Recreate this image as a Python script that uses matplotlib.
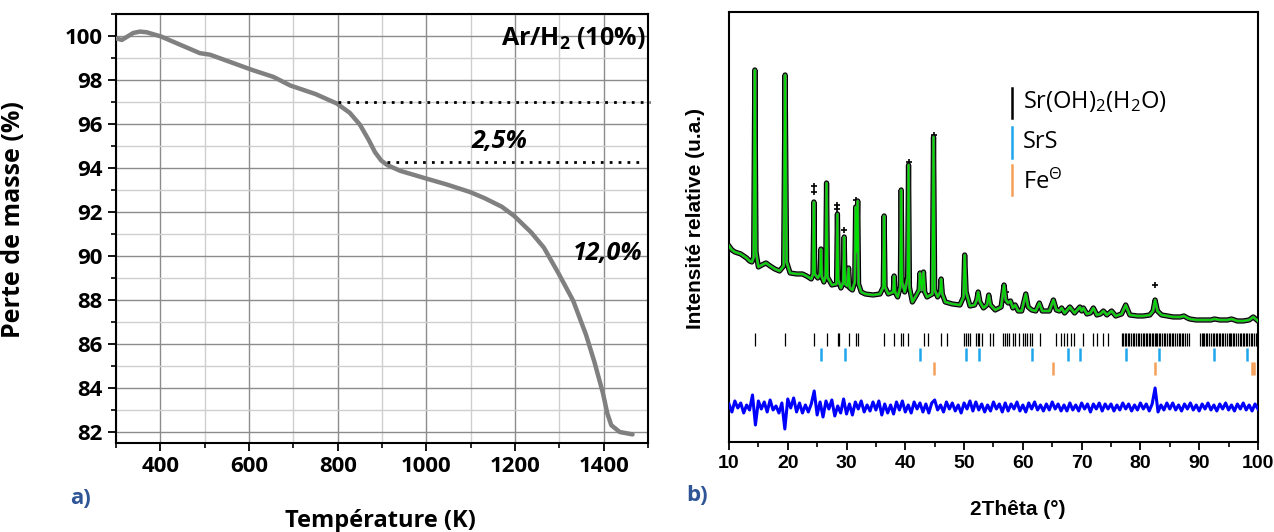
import matplotlib
matplotlib.use('Agg')
import numpy as np
import matplotlib.pyplot as plt
from matplotlib.ticker import MultipleLocator

# ---- a) TGA curve under Ar/H2 ----
temp_k = [300, 313, 339, 354, 369, 401, 489, 512, 608, 655, 693, 750, 798, 827, 850,
          870, 884, 898, 912, 941, 998, 1046, 1098, 1131, 1170, 1198, 1236, 1265,
          1298, 1331, 1360, 1379, 1398, 1408, 1417, 1436, 1465]
mass_pct = [99.89, 99.82, 100.14, 100.2, 100.17, 99.98, 99.22, 99.15, 98.45, 98.14,
            97.75, 97.36, 96.93, 96.51, 95.97, 95.27, 94.72, 94.34, 94.13, 93.87,
            93.53, 93.25, 92.91, 92.63, 92.24, 91.82, 91.08, 90.38, 89.21, 87.97,
            86.42, 85.18, 83.78, 82.85, 82.31, 82.0, 81.89]
step1_level = 96.98
step2_level = 94.27

# ---- b) XRD Rietveld refinement ----
two_theta = [10.0, 10.5, 11.0, 11.5, 12.0, 12.5, 13.0, 13.5, 13.9, 14.2, 14.4, 14.6, 15.0,
             15.6, 16.3, 17.0, 17.8, 18.6, 19.3, 19.55, 19.8, 20.4, 21.5, 22.5, 23.2,
             24.0, 24.3, 24.45, 24.6, 25.1, 25.5, 25.65, 25.8, 26.15, 26.45, 26.6, 26.75,
             27.5, 28.3, 28.45, 28.6, 29.05, 29.45, 29.6, 29.75, 30.15, 30.35, 30.55, 31.0,
             31.4, 31.55, 31.72, 31.9, 32.05, 32.5, 33.2, 34.5, 35.7, 36.25, 36.4, 36.55,
             37.1, 37.95, 38.1, 38.25, 38.7, 39.15, 39.3, 39.45, 39.9, 40.4, 40.55, 40.7,
             41.2, 41.9, 42.35, 42.5, 42.8, 43.1, 43.3, 43.7, 44.6, 44.8, 45.0, 45.5,
             45.95, 46.1, 46.3, 46.8, 48.0, 49.3, 49.9, 50.1, 50.35, 51.0, 51.8, 52.15,
             52.4, 52.7, 53.3, 53.9, 54.2, 54.5, 55.3, 56.3, 56.8, 57.1, 57.5, 57.9, 58.3,
             58.7, 59.2, 59.8, 60.5, 60.9, 61.5, 62.2, 62.8, 63.3, 64.5, 65.2, 65.7, 66.2,
             66.6, 67.1, 68.0, 68.8, 69.7, 70.0, 70.3, 70.9, 71.5, 72.0, 72.6, 73.2, 73.7,
             74.3, 75.1, 75.8, 76.8, 77.5, 78.2, 79.5, 80.5, 81.6, 82.15, 82.5, 82.9, 83.6,
             84.6, 85.6, 86.8, 87.4, 88.0, 88.4, 89.5, 90.7, 92.0, 92.6, 93.5, 94.8, 95.5,
             96.5, 97.5, 98.5, 99.2, 100.0]
calc_int = [196, 192, 190, 189, 188, 186, 184, 181, 180, 185, 372, 190, 175,
            177, 179, 176, 173, 171, 176, 367, 180, 169, 168, 168, 166,
            163, 168, 240, 168, 164, 168, 193, 165, 160, 166, 259, 165,
            157, 158, 228, 162, 154, 160, 205, 158, 156, 174, 154, 152,
            160, 235, 190, 241, 158, 150, 148, 147, 148, 155, 226, 155,
            148, 150, 166, 150, 145, 155, 252, 160, 150, 165, 277, 155,
            140, 147, 152, 169, 152, 170, 150, 145, 148, 305, 152, 145,
            150, 163, 148, 140, 138, 137, 145, 187, 150, 136, 137, 142,
            150, 140, 134, 137, 147, 137, 132, 135, 157, 142, 139, 141, 134,
            137, 131, 131, 148, 135, 132, 131, 139, 131, 131, 142, 132, 131,
            134, 129, 135, 129, 135, 131, 134, 128, 129, 134, 127, 128, 131,
            127, 131, 126, 128, 137, 127, 126, 126, 127, 131, 142, 131, 127,
            126, 125, 125, 126, 124, 123, 122, 122, 122, 123, 122, 122, 123,
            121, 121, 122, 125, 121]
obs_extra_x = [24.45, 24.45, 28.45, 28.45, 29.6, 31.55, 40.55, 44.8, 57.2, 82.5]
obs_extra_y = [256, 250, 237, 233, 212, 242, 280, 307, 150, 157]

diff_offset = 35
diff_vals = [3, -5, 6, -1, 4, -6, 2, -3, 12, -18,
             6, -2, 5, -5, 7, -3, 1, -6, 4, -22,
             8, -1, 9, -5, 4, -6, 2, -5, 3, 16,
             -8, 5, -10, 6, -2, 7, -9, 1, -6, 8,
             -7, 3, -8, 5, -2, 6, -5, 2, -4, 5,
             -3, 6, -8, 3, -6, 2, -7, 5, -3, 6,
             -5, 2, -6, 5, -2, 4, -5, 3, -6, 4,
             7, -3, 2, -5, 5, -2, 4, -4, 2, -6,
             4, -2, 6, -4, 5, -3, 3, -5, 2, -4,
             5, -2, 3, -5, 4, -4, 3, -2, 5, -4,
             2, -5, 4, -2, 5, -3, 2, -4, 3, -3,
             5, -2, 3, -4, 2, -4, 4, -3, 2, -4,
             4, -2, 3, -5, 3, -2, 4, -4, 3, -2,
             3, -4, 2, -3, 4, -2, 3, -4, 2, -3,
             4, -2, 3, -4, 3, 19, -5, 2, -3, 4,
             -2, 4, -3, 2, -4, 3, -2, 4, -3, 2,
             -4, 3, -2, 4, -3, 2, -4, 3, -2, 4,
             -3, 2, -4, 3, -2, 4, -3, 2, -4, 3,
             -2]
diff_theta = np.linspace(10, 100, len(diff_vals))

srohh2o_pos = [14.42, 19.58, 24.46, 26.6, 28.5, 28.77, 30.36, 31.55, 31.9, 36.42, 38.1,
               39.26, 39.55, 40.5, 43.1, 43.9, 46.0, 47.04, 50.0, 50.26, 50.6, 51.0,
               51.97, 52.3, 52.6, 52.98, 54.4, 54.97, 56.67, 56.95, 57.24, 57.7, 58.26,
               58.66, 59.4, 60.07, 60.36, 60.64, 61.2, 61.55, 62.9, 65.63, 66.43, 66.99,
               67.56, 68.13, 68.69, 70.28, 71.98, 72.66, 73.68, 74.53,
               76.8, 77.0, 77.3, 77.6, 77.9, 78.1, 78.4, 78.7, 78.9, 79.3, 79.6, 79.8,
               80.1, 80.4, 80.6, 80.9, 81.2, 81.4, 81.7, 82.0, 82.2, 82.4, 82.6, 82.9,
               83.1, 83.4, 83.7, 84.0, 84.2, 84.5, 84.8, 85.1, 85.3, 85.6, 85.9, 86.2,
               86.5, 86.8, 87.0, 87.3, 87.6, 87.9, 88.2,
               90.1, 90.4, 90.6, 90.9, 91.2, 91.4, 91.7, 92.0, 92.3, 92.5, 92.8, 93.1,
               93.3, 93.6, 93.9, 94.1, 94.4, 94.7, 95.0, 95.2, 95.5, 95.8, 96.0, 96.3,
               96.6, 96.9, 97.1, 97.4, 97.7, 97.9, 98.2, 98.5, 98.8, 99.0, 99.3, 99.6, 99.9]
srs_pos = [25.65, 29.7, 42.5, 50.3, 52.6, 61.5, 67.7, 69.7, 77.5, 83.2, 92.5, 98.2]
fe_pos = [44.8, 65.2, 82.5, 99.0, 99.3]

main_font = 'Open Sans'
arial = 'Liberation Sans'
label_blue = '#2F5597'

plt.rcParams['mathtext.fontset'] = 'custom'
plt.rcParams['mathtext.rm'] = 'Open Sans'
plt.rcParams['mathtext.it'] = 'Open Sans:italic'
plt.rcParams['mathtext.bf'] = 'Open Sans:bold'

fig = plt.figure(figsize=(12.74, 5.32), dpi=100)

# ------------------------------------------------------------ panel a
ax1 = fig.add_axes([0.0911, 0.1673, 0.4176, 0.8064])
ax1.plot(temp_k, mass_pct, color='#808080', lw=3.2, solid_capstyle='round', zorder=3)
ax1.plot([800, 1505], [step1_level, step1_level], color='black', ls=(0, (1, 2.2)),
         lw=2, clip_on=False, zorder=4)
ax1.plot([912, 1488], [step2_level, step2_level], color='black', ls=(0, (1, 2.2)),
         lw=2, clip_on=False, zorder=4)
ax1.set_xlim(300, 1500)
ax1.set_ylim(81.5, 101)
ax1.xaxis.set_major_locator(MultipleLocator(200))
ax1.xaxis.set_minor_locator(MultipleLocator(100))
ax1.yaxis.set_major_locator(MultipleLocator(2))
ax1.yaxis.set_minor_locator(MultipleLocator(1))
ax1.grid(which='major', color='#8c8c8c', lw=1.0)
ax1.grid(which='minor', color='#cfcfcf', lw=1.0)
ax1.set_axisbelow(True)
ax1.tick_params(which='major', direction='out', length=6, width=1.3)
ax1.tick_params(which='minor', direction='out', length=3.5, width=1.2)
for s in ax1.spines.values():
    s.set_linewidth(1.5)
for lab in ax1.get_xticklabels() + ax1.get_yticklabels():
    lab.set_fontfamily(main_font)
    lab.set_fontweight('bold')
    lab.set_fontsize(16)
ax1.set_xlabel('Température (K)', fontfamily=main_font, fontweight='bold', fontsize=17)
ax1.set_ylabel('Perte de masse (%)', fontfamily=main_font, fontweight='bold', fontsize=18)
ax1.xaxis.set_label_coords(0.497, -0.155)
ax1.yaxis.set_label_coords(-0.17, 0.52)
ax1.text(0.996, 0.942, r'Ar/H$_\mathbf{2}$ (10%)', transform=ax1.transAxes, ha='right',
         va='center', fontfamily=main_font, fontweight='bold', fontsize=18)
ax1.text(1164, 95.2, '2,5%', ha='center', va='center', fontfamily=main_font,
         fontweight='bold', fontstyle='italic', fontsize=18)
ax1.text(1408, 90.1, '12,0%', ha='center', va='center', fontfamily=main_font,
         fontweight='bold', fontstyle='italic', fontsize=18)

# ------------------------------------------------------------ panel b
ax2 = fig.add_axes([0.5722, 0.1692, 0.4152, 0.8083])
ax2.plot(two_theta, calc_int, color='black', lw=3.8, solid_joinstyle='round', zorder=2)
ax2.plot(obs_extra_x, obs_extra_y, '+', color='black', ms=4, mew=1.2, zorder=2)
ax2.plot(two_theta, calc_int, color='#9df29d', lw=2.2, alpha=0.5,
         solid_joinstyle='round', zorder=3)
ax2.plot(two_theta, calc_int, color='#00e000', lw=1.1, solid_joinstyle='round', zorder=4)
ax2.plot(diff_theta, np.array(diff_vals) + diff_offset, color='#0000ff', lw=2.2, zorder=3)
ax2.vlines(srohh2o_pos, 96, 109, color='black', lw=0.9)
ax2.vlines(srs_pos, 81, 94, color='#1fa5ec', lw=1.8)
ax2.vlines(fe_pos, 67, 80, color='#f5a05a', lw=1.8)
ax2.set_xlim(10, 100)
ax2.set_ylim(0, 430)
ax2.set_yticks([])
ax2.xaxis.set_major_locator(MultipleLocator(10))
ax2.xaxis.set_minor_locator(MultipleLocator(5))
ax2.tick_params(which='major', direction='out', length=6, width=1.3)
ax2.tick_params(which='minor', direction='out', length=3.5, width=1.2)
for s in ax2.spines.values():
    s.set_linewidth(1.5)
for lab in ax2.get_xticklabels():
    lab.set_fontfamily(arial)
    lab.set_fontweight('bold')
    lab.set_fontsize(14)
ax2.set_xlabel('2Thêta (°)', fontfamily=arial, fontweight='bold', fontsize=15)
ax2.set_ylabel('Intensité relative (u.a.)', fontfamily=arial, fontweight='bold', fontsize=15)
ax2.xaxis.set_label_coords(0.546, -0.135)
ax2.yaxis.set_label_coords(-0.045, 0.52)

# legend bars
legend_items = [('Sr(OH)$_2$(H$_2$O)', 'black', 0.823, 0.753, 0.791),
                ('SrS', '#1fa5ec', 0.733, 0.660, 0.698),
                ('Fe$^{\\Theta}$', '#f5a05a', 0.644, 0.574, 0.605)]
for txt, col, y0, y1, yt in legend_items:
    ax2.plot([0.535, 0.535], [y0, y1], color=col, lw=1.8, transform=ax2.transAxes)
    ax2.text(0.556, yt, txt, transform=ax2.transAxes, ha='left', va='center',
             fontfamily=main_font, fontsize=17)

fig.text(0.0628, 0.063, 'a)', color=label_blue, fontfamily=main_font, fontweight='bold',
         fontsize=16, ha='center', va='center')
fig.text(0.547, 0.0695, 'b)', color=label_blue, fontfamily=main_font, fontweight='bold',
         fontsize=16, ha='center', va='center')

plt.savefig('out.png', dpi=100)
